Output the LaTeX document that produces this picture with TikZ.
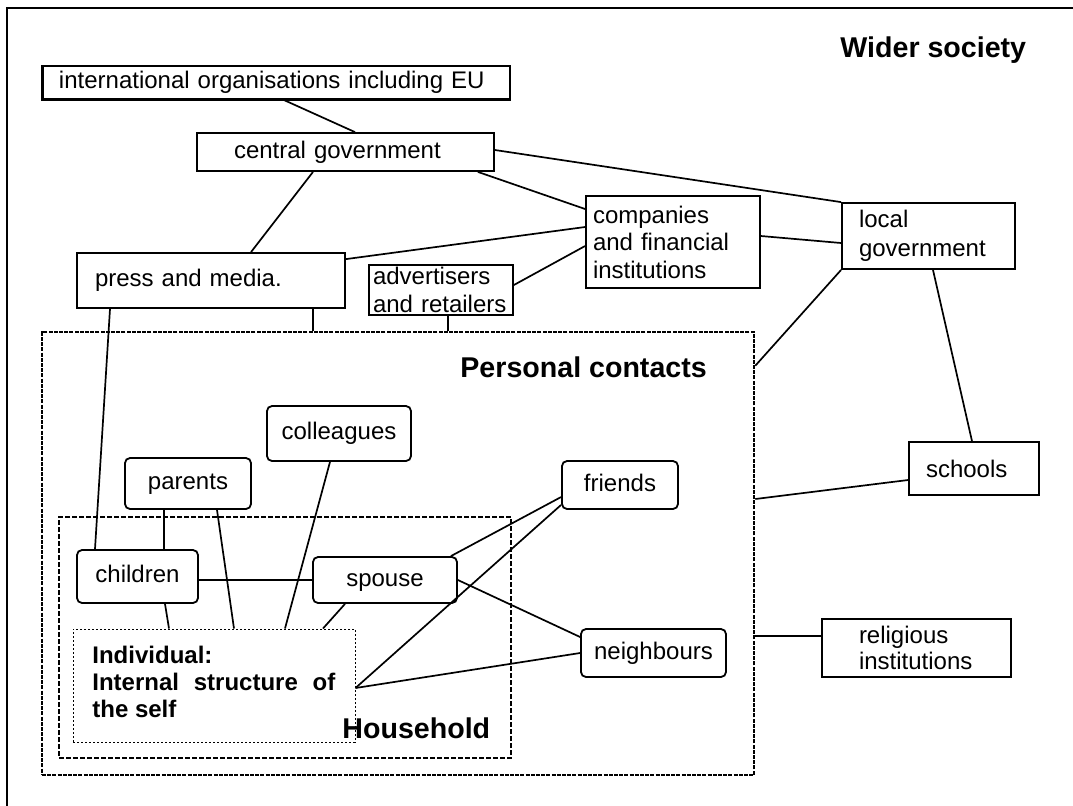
\documentclass[tikz,border=0pt]{standalone}
\usepackage{fontspec}
\setmainfont{Liberation Sans}

\begin{document}
\begin{tikzpicture}[x=0.5pt, y=-0.5pt,
  every node/.style={font=\fontsize{12}{13.75}\selectfont},
  inst/.style={draw, line width=0.9pt, rectangle, inner ysep=0pt, align=left},
  contact/.style={draw, line width=0.9pt, rectangle, rounded corners=2.5pt, inner sep=0pt, text height=8.8pt, text depth=2.5pt},
  heading/.style={inner sep=0pt, font=\bfseries\fontsize{14.3}{16}\selectfont},
  pframe/.style={draw, line width=1.3pt, dash pattern=on 2pt off 0.6pt, inner sep=0pt},
  hframe/.style={draw, line width=0.8pt, dash pattern=on 2.5pt off 1pt, inner sep=0pt},
  sframe/.style={draw, line width=0.5pt, dash pattern=on 1pt off 1pt, inner sep=0pt},
  link/.style={line width=0.85pt}]

  \useasboundingbox (0,0) rectangle (1073,805);
  \draw[line width=1pt] (7,8) rectangle (1090,820);

  \node[pframe, minimum width=356pt, minimum height=221.5pt] (personal) at (398,553.5) {};
  \node[hframe, minimum width=226pt, minimum height=120.5pt] (household) at (285,637.5) {};
  \node[sframe, minimum width=141pt, minimum height=56.5pt] (self) at (214,685.5) {};

  \node[heading, anchor=base west] (wider) at (840,57) {Wider society};
  \node[heading, anchor=base west] (pclabel) at (460,377) {Personal contacts};
  \node[heading, anchor=base west] (hhlabel) at (342,738) {Household};
  \node[anchor=north west, inner sep=0pt, align=left, font=\bfseries\fontsize{12}{13.5}\selectfont] (selftext) at (92,646)
    {Individual:\\ \makebox[121.5pt][s]{Internal structure of}\\ the self};

  \node[inst, inner xsep=8pt, text width=217.5pt, minimum height=16.5pt, line width=0.6pt] (intl) at (276.5,82.5) {international organisations including EU};
  \draw[line width=1.5pt] (intl.north west) -- (intl.south west) -- (intl.south east);
  \node[inst, inner xsep=18.5pt, text width=111.5pt, minimum height=19pt] (central) at (345.5,152) {central government};
  \node[inst, inner xsep=9pt, text width=116pt, minimum height=27.5pt] (press) at (211,280.5) {press and media.};
  \node[inst, inner xsep=2pt, text width=68pt, minimum height=25pt, font=\fontsize{12}{14}\selectfont] (adv) at (441,290) {advertisers\\and retailers};
  \node[inst, inner xsep=3.5pt, text width=80pt, minimum height=46pt] (companies) at (673,242) {companies\\and financial\\institutions};
  \node[inst, inner xsep=8.5pt, text width=69.5pt, minimum height=33pt, font=\fontsize{12}{14.5}\selectfont] (localgov) at (928.5,236) {local\\government};
  \node[inst, inner xsep=8.5pt, text width=48pt, minimum height=26.5pt] (schools) at (974,468.5) {schools};
  \node[inst, inner xsep=18.5pt, text width=57.5pt, minimum height=29pt, font=\fontsize{12}{13}\selectfont] (religious) at (916.5,648) {religious\\institutions};

  \node[contact, minimum width=72pt, minimum height=27.5pt] (colleagues) at (339,433.5) {colleagues};
  \node[contact, minimum width=63pt, minimum height=25.5pt] (parents) at (188,483.5) {parents};
  \node[contact, minimum width=60.5pt, minimum height=26.5pt] (children) at (137.5,576.5) {children};
  \node[contact, minimum width=72pt, minimum height=23pt] (spouse) at (385,580) {spouse};
  \node[contact, minimum width=58pt, minimum height=24pt] (friends) at (620,485) {friends};
  \node[contact, minimum width=72.5pt, minimum height=24pt] (neighbours) at (653.5,653) {neighbours};

  \path[link]
  ([xshift=3.25pt]intl.south) edge ([xshift=4.75pt]central.north)
  ([xshift=-16.25pt]central.south) edge ([xshift=20pt]press.north)
  ([yshift=1pt]central.east) edge (localgov.north west)
  ([xshift=-8.5pt]central.south east) edge ([yshift=16.5pt]companies.west)
  ([yshift=-3.5pt]press.north east) edge ([yshift=7.5pt]companies.west)
  ([yshift=2.5pt]adv.east) edge ([yshift=-2pt]companies.west)
  ([yshift=3pt]companies.east) edge ([yshift=-3.5pt]localgov.west)
  (localgov.south west) edge ([yshift=-17.5pt]personal.north east)
  ([xshift=2.25pt]localgov.south) edge ([xshift=-1pt]schools.north)
  ([yshift=-5.75pt]schools.west) edge ([yshift=27.25pt]personal.east)
  ([yshift=6pt]religious.west) edge ([yshift=-41.25pt]personal.east)
  ([xshift=51pt]press.south) edge ([xshift=-42.5pt]personal.north)
  ([xshift=3.5pt]adv.south) edge ([xshift=25pt]personal.north)
  ;
  \path[link]
  ([xshift=-50.5pt]press.south) edge ([xshift=-21.25pt]children.north)
  ([xshift=-12pt]parents.south) edge ([xshift=13.25pt]children.north)
  ([xshift=14.5pt]parents.south) edge ([xshift=10pt]self.north)
  ([xshift=-4.5pt]colleagues.south) edge ([xshift=35.5pt]self.north)
  (children.east |- spouse.west) edge (spouse.west)
  ([xshift=13.75pt]children.south) edge ([xshift=-22.5pt]self.north)
  ([xshift=-20pt]spouse.south) edge ([xshift=54.5pt]self.north)
  ([xshift=-3.5pt]spouse.north east) edge ([yshift=-6pt]friends.west)
  ([yshift=-1.25pt]self.east) edge ([yshift=2.5pt]friends.south west)
  (spouse.east) edge ([yshift=8pt]neighbours.west)
  ([yshift=-1.25pt]self.east) edge (neighbours.west)
  ;
\end{tikzpicture}
\end{document}
